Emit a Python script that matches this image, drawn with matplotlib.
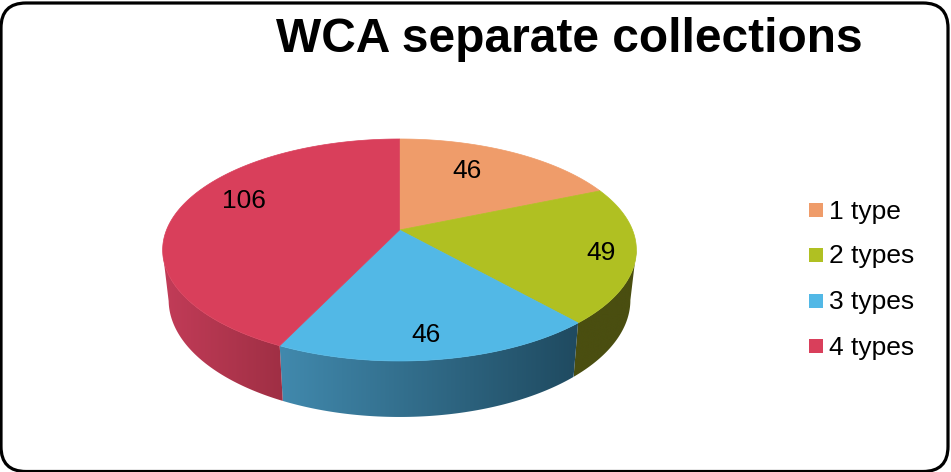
import numpy as np
import matplotlib
matplotlib.use('Agg')
import matplotlib.pyplot as plt
from matplotlib.colors import LinearSegmentedColormap
from matplotlib.patches import FancyBboxPatch, Polygon, Rectangle

plt.rcParams['font.family'] = ['Liberation Sans', 'DejaVu Sans']

# Chart data
categories = ['1 type', '2 types', '3 types', '4 types']
values = [46, 49, 46, 106]
title = 'WCA separate collections'

top_colors = ['#EF9C6A', '#B0C022', '#52B8E6', '#D93F5B']
wall_colors = [('#EF9C6A', '#EF9C6A'), ('#4A4E10', '#4A4E10'),
               ('#4189AD', '#1F4A60'), ('#C23C58', '#9F2F44')]
label_pos = [(467, 171.5), (601, 253.5), (426, 335.5), (244, 201.5)]
legend_y = [211.5, 256.5, 302.5, 347.5]


# tilted disc: unit circle through a perspective map into pixel coords
def project(t):
    u, v = np.sin(t), np.cos(t)
    w = 1 + 0.18 * v
    return 399.5 + 233 * u / w, 230 - 107.4 * v / w


def to_bottom(x, y):
    return 400 + (x - 400) * 231 / 237, 300 + (y - 250) * 117 / 111


fig = plt.figure(figsize=(9.51, 4.72), dpi=100)
ax = fig.add_axes([0, 0, 1, 1])

ax.add_patch(FancyBboxPatch((1, 3), 947, 468.5, boxstyle='round,pad=0,rounding_size=25',
                            fc='white', ec='black', lw=2.3, zorder=0))

edges = np.concatenate([[0], np.cumsum(values)]) / np.sum(values) * 2 * np.pi

# side walls first, top surface over them
for i in range(len(values)):
    t = np.linspace(edges[i], edges[i + 1], 200)
    x, y = project(t)
    keep = y >= 250
    if keep.sum() < 2:
        continue
    x, y = x[keep], y[keep]
    xb, yb = to_bottom(x, y)
    pts = np.column_stack([np.r_[x, xb[::-1]], np.r_[y, yb[::-1]]])
    wall = Polygon(pts, closed=True, fc='none', ec='none', zorder=1)
    ax.add_patch(wall)
    cmap = LinearSegmentedColormap.from_list('wall', wall_colors[i])
    im = ax.imshow(np.linspace(0, 1, 256).reshape(1, -1), cmap=cmap, aspect='auto',
                   extent=(pts[:, 0].min(), pts[:, 0].max(), pts[:, 1].max(), pts[:, 1].min()),
                   zorder=1)
    im.set_clip_path(wall)

for i in range(len(values)):
    t = np.linspace(edges[i], edges[i + 1], 200)
    x, y = project(t)
    pts = np.column_stack([np.r_[399.5, x], np.r_[230, y]])
    ax.add_patch(Polygon(pts, closed=True, fc=top_colors[i], ec=top_colors[i], lw=0.5, zorder=2))
    ax.text(label_pos[i][0], label_pos[i][1], str(values[i]), fontsize=19,
            ha='center', va='center', color='black', zorder=3)

# legend
for i in range(len(categories)):
    ax.add_patch(Rectangle((809, legend_y[i] - 8.5), 14, 14, fc=top_colors[i], ec='none', zorder=2))
    ax.text(829, legend_y[i], categories[i], fontsize=19, ha='left', va='center', color='black')

ax.text(569.5, 52, title, fontsize=34.5, fontweight='bold', ha='center', va='baseline', color='black')

ax.set_xlim(0, 951)
ax.set_ylim(472, 0)
ax.axis('off')

fig.savefig('out.png', dpi=100, facecolor='white')
